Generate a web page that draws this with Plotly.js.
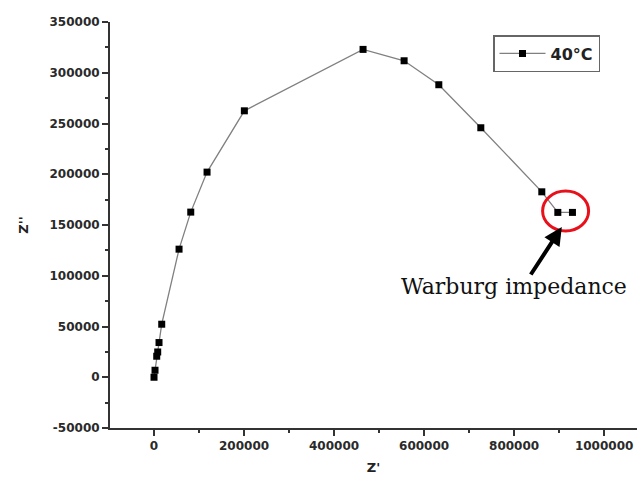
<!DOCTYPE html>
<html>
<head>
<meta charset="utf-8">
<script src="https://cdn.plot.ly/plotly-3.0.1.min.js"></script>
<style>html,body{margin:0;padding:0;background:#fff;}#chart{width:637px;height:483px;}</style>
</head>
<body>
<div id="chart"></div>
<script>
// Nyquist data, 40°C
const zReal = [0, 2200, 6000, 8200, 11100, 17100, 55600, 81600, 117800, 200700, 464400, 555600, 632700, 726000, 861500, 897100, 929600];
const zImag = [0, 6900, 20700, 24900, 34200, 52250, 126200, 162700, 202100, 262500, 323000, 311800, 288200, 245800, 182700, 162400, 162400];
const seriesName = '40°C';
const xTickVals = [0, 200000, 400000, 600000, 800000, 1000000];
const yTickVals = [-50000, 0, 50000, 100000, 150000, 200000, 250000, 300000, 350000];

const sansBold = 'DejaVu Sans, Arial, sans-serif';
const tickFont = {family: sansBold, size: 12, color: '#2a2a2a', weight: 'bold'};
const axisCommon = {
  showgrid: false, zeroline: false, showline: true, linecolor: '#333', linewidth: 2,
  ticks: 'outside', ticklen: 6, tickwidth: 2, tickcolor: '#333', tickfont: tickFont,
  mirror: false
};

const trace = {
  x: zReal, y: zImag, name: seriesName, type: 'scatter', mode: 'lines+markers',
  line: {color: '#808080', width: 1.3},
  marker: {symbol: 'square', size: 7, color: '#000'}
};

const L = 110, T = 22, PW = 527, PH = 406;
const px2paperX = p => (p - L) / PW;
const px2paperY = p => (T + PH - p) / PH;

const layout = {
  width: 637, height: 483,
  margin: {l: L, r: 0, t: T, b: 55},
  paper_bgcolor: '#fff', plot_bgcolor: '#fff',
  showlegend: true,
  legend: {
    x: px2paperX(493), y: px2paperY(35), xanchor: 'left', yanchor: 'top',
    bordercolor: '#666', borderwidth: 1.5, bgcolor: '#fff',
    font: {family: sansBold, size: 16, color: '#222', weight: 'bold'},
    itemwidth: 46, tracegroupgap: 0
  },
  xaxis: Object.assign({}, axisCommon, {
    range: [-97800, 1073000], tickvals: xTickVals, ticktext: xTickVals.map(String),
    minor: {dtick: 100000, tick0: 0, ticks: 'outside', ticklen: 3, tickwidth: 2, tickcolor: '#333'},
    title: {text: "Z'", font: {family: sansBold, size: 13, color: '#222', weight: 'bold'}, standoff: 10}
  }),
  yaxis: Object.assign({}, axisCommon, {
    range: [-50000, 350000], tickvals: yTickVals, ticktext: yTickVals.map(String),
    minor: {dtick: 25000, tick0: 0, ticks: 'outside', ticklen: 3, tickwidth: 2, tickcolor: '#333'},
    title: {text: "Z''", font: {family: sansBold, size: 13, color: '#222', weight: 'bold'}, standoff: 18}
  }),
  shapes: [{
    type: 'circle', xref: 'x', yref: 'y',
    x0: 863300, x1: 965500, y0: 144000, y1: 183400,
    line: {color: '#e8101a', width: 3}
  }],
  annotations: [{
    x: 906000, y: 148000, xref: 'x', yref: 'y',
    ax: 524 - 556, ay: 276 - 227,
    showarrow: true, arrowhead: 2, arrowsize: 0.9, arrowwidth: 4, arrowcolor: '#000',
    text: ''
  }, {
    x: px2paperX(514), y: px2paperY(287), xref: 'paper', yref: 'paper',
    xanchor: 'center', yanchor: 'middle',
    text: 'Warburg impedance', showarrow: false,
    font: {family: 'DejaVu Serif, Times New Roman, serif', size: 22, color: '#111'}
  }]
};

Plotly.newPlot('chart', [trace], layout, {displayModeBar: false, staticPlot: true});
</script>
</body>
</html>
